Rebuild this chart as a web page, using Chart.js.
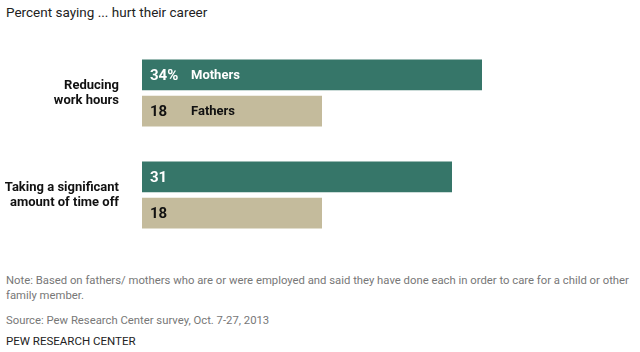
<!DOCTYPE html>
<html>
<head>
<meta charset="utf-8">
<script src="https://cdn.jsdelivr.net/npm/chart.js@4"></script>
<style>
  body { margin: 0; width: 640px; height: 352px; background: #fff; position: relative; overflow: hidden;
         font-family: "Roboto", sans-serif; }
  .t { position: absolute; left: 6px; white-space: nowrap; }
  #title { top: 4px; font-size: 13.5px; color: #222; }
  #note { top: 273px; font-size: 11.3px; color: #777; line-height: 15px; }
  #source { top: 314px; font-size: 11.3px; color: #777; }
  #brand { top: 334px; font-size: 11.5px; color: #222; }
  #wrap { position: absolute; left: 0; top: 0; width: 640px; height: 260px; }
</style>
</head>
<body>
<div class="t" id="title">Percent saying ... hurt their career</div>
<div id="wrap"><canvas id="myChart"></canvas></div>
<div class="t" id="note">Note: Based on fathers/ mothers who are or were employed and said they have done each in order to care for a child or other<br>family member.</div>
<div class="t" id="source">Source: Pew Research Center survey, Oct. 7-27, 2013</div>
<div class="t" id="brand">PEW RESEARCH CENTER</div>
<script>
var categories = [
  ['Reducing', 'work hours'],
  ['Taking a significant', 'amount of time off']
];
var mothers = [34, 31];
var fathers = [18, 18];

// value text inside each bar, series name only on first row
var barText = {
  id: 'barText',
  afterDatasetsDraw: function (chart) {
    var c = chart.ctx;
    c.save();
    c.textBaseline = 'middle';
    chart.data.datasets.forEach(function (ds, di) {
      chart.getDatasetMeta(di).data.forEach(function (bar, i) {
        c.fillStyle = di === 0 ? '#fff' : '#111';
        c.font = 'bold 15px Roboto, sans-serif';
        var txt = String(ds.data[i]);
        if (i === 0 && di === 0) txt += '%';
        c.fillText(txt, bar.base + 8, bar.y + 1);
        if (i === 0) {
          c.font = 'bold 13px Roboto, sans-serif';
          c.fillText(ds.label, bar.base + 49, bar.y + 1);
        }
      });
    });
    c.restore();
  }
};

var ctx = document.getElementById('myChart').getContext('2d');
var myChart = new Chart(ctx, {
  type: 'bar',
  data: {
    labels: categories,
    datasets: [{
      label: 'Mothers',
      data: mothers,
      backgroundColor: 'rgb(54, 118, 105)',
      categoryPercentage: 0.71,
      barPercentage: 0.85
    }, {
      label: 'Fathers',
      data: fathers,
      backgroundColor: 'rgb(196, 187, 156)',
      categoryPercentage: 0.71,
      barPercentage: 0.85
    }]
  },
  options: {
    indexAxis: 'y',
    responsive: true,
    maintainAspectRatio: false,
    animation: false,
    layout: { padding: { top: 42, bottom: 14, left: 0, right: 18 } },
    plugins: {
      legend: { display: false },
      tooltip: { enabled: false }
    },
    scales: {
      x: { display: false, min: 0, max: 48 },
      y: {
        grid: { display: false },
        border: { display: false },
        afterFit: function (axis) {
          axis.width = 142;
          axis.paddingTop = 0;
          axis.paddingBottom = 0;
        },
        ticks: {
          padding: 15,
          color: '#111',
          font: { family: 'Roboto, sans-serif', size: 13, weight: 'bold', lineHeight: 1.12 }
        }
      }
    }
  },
  plugins: [barText]
});
</script>
</body>
</html>
